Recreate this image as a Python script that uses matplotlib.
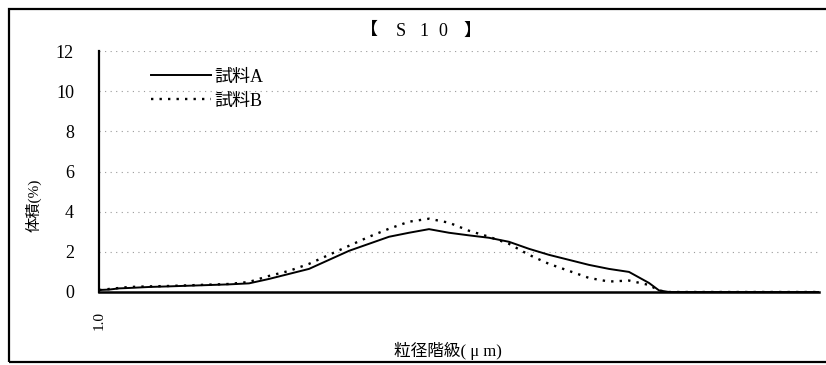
import numpy as np
import matplotlib
matplotlib.use("Agg")
import matplotlib.pyplot as plt
from matplotlib.patches import Rectangle

# ---- フォント: 英数字は明朝風 (Liberation Serif)、漢字は Noto CJK へフォールバック ----
plt.rcParams['font.family'] = ['Liberation Serif', 'Noto Sans CJK JP', 'DejaVu Sans']

# ---- データ (粒径階級インデックス / 体積%) ----
idx = [0, 1, 2, 3, 5, 7, 10, 13, 15, 17, 19, 21, 23, 25, 27, 29, 31, 33, 35,
       37, 39, 41, 43, 45, 47, 49, 51, 53, 55, 56, 57, 60, 65, 70, 72]
vol_a = [0.10, 0.12, 0.18, 0.20, 0.25, 0.28, 0.33, 0.38, 0.43, 0.65, 0.90,
         1.15, 1.60, 2.05, 2.40, 2.75, 2.95, 3.13, 2.95, 2.82, 2.70, 2.50,
         2.15, 1.85, 1.60, 1.35, 1.15, 1.00, 0.45, 0.08, 0.0, 0.0, 0.0, 0.0, 0.0]
vol_b = [0.10, 0.15, 0.20, 0.25, 0.28, 0.30, 0.35, 0.40, 0.50, 0.80, 1.05,
         1.40, 1.85, 2.30, 2.75, 3.15, 3.50, 3.65, 3.45, 3.05, 2.75, 2.40,
         1.85, 1.40, 1.05, 0.70, 0.52, 0.57, 0.35, 0.07, 0.0, 0.0, 0.0, 0.0, 0.0]
x_ticks = [0]
x_ticklabels = ["1.0"]
y_ticks = [0, 2, 4, 6, 8, 10, 12]

fig = plt.figure(figsize=(8.26, 3.65), dpi=100)

# 外枠 (右端は切れている)
fig.patches.append(Rectangle((9/826, 3/365), 1.0, 353/365, transform=fig.transFigure,
                             fill=False, edgecolor='black', linewidth=1.6))

ax = fig.add_axes([99/826, 73/365, 720/826, 241/365])

ax.plot(idx, vol_a, color='black', linewidth=1.4, label='試料A')
ax.plot(idx, vol_b, color='black', linewidth=1.7, linestyle=(0, (1, 2.6)), label='試料B')

ax.set_xlim(0, 72)
ax.set_ylim(0, 12)
ax.set_yticks(y_ticks)
ax.set_yticklabels([str(v) for v in y_ticks], fontsize=13)
ax.set_xticks(x_ticks)
ax.set_xticklabels(x_ticklabels, rotation=90, fontsize=11)
ax.tick_params(axis='y', length=0, pad=18)
ax.tick_params(axis='x', length=0, pad=14)

# グリッド (かすれた点線)
ax.yaxis.grid(True, color='#9a9a9a', linestyle=(0, (1, 4)), linewidth=0.8)
ax.set_axisbelow(True)

for s in ['top', 'right']:
    ax.spines[s].set_visible(False)
ax.spines['left'].set_linewidth(1.6)
ax.spines['bottom'].set_linewidth(1.8)

# タイトル (全角風に字間を広く)
title_chars = ['【', 'S', '1', '0', '】']
title_x = [369, 401, 424, 443, 472]
for ch, tx in zip(title_chars, title_x):
    fig.text(tx/826, 1 - 31/365, ch, fontsize=13, ha='center', va='center')

ax.set_ylabel('体積(%)', fontsize=11)
ax.yaxis.set_label_coords(-0.08, 0.36)
ax.set_xlabel('粒径階級( μ m)', fontsize=12)
ax.xaxis.set_label_coords(0.485, -0.207)

leg = ax.legend(loc='upper left', bbox_to_anchor=(0.05, 0.995), frameon=False,
                fontsize=13, handlelength=3.3, handletextpad=0.2, labelspacing=0.4)

fig.savefig('out.png', dpi=100)
